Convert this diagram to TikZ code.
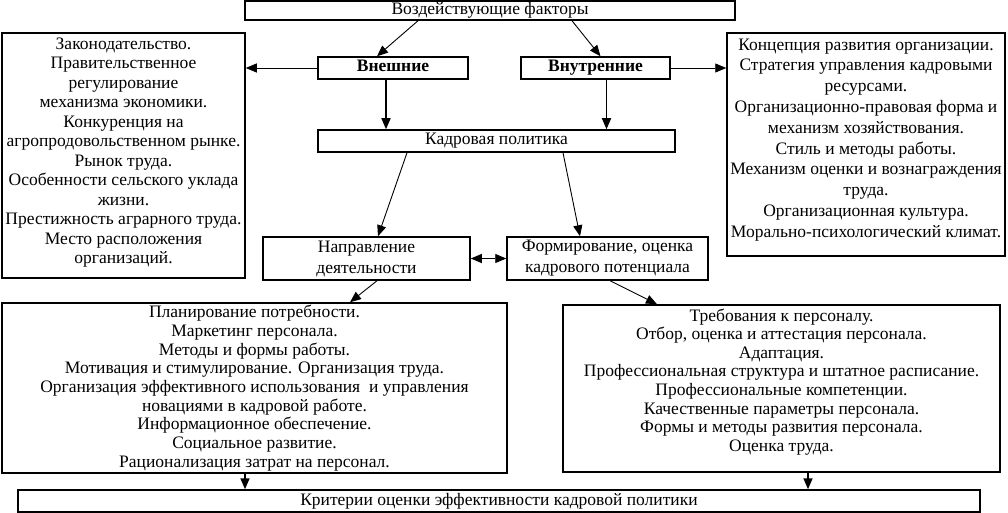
\documentclass[tikz,border=0pt]{standalone}
\usepackage{fontspec}
\setmainfont{Liberation Serif}
\usetikzlibrary{arrows.meta}

\newcommand{\boxfont}[1]{\fontsize{17.5}{#1}\selectfont}

\tikzset{
  frame/.style={draw, line width=1.5pt, inner sep=0pt, font=\boxfont{19.5}},
  box/.style={frame, align=center},
  linebox/.style={frame, text height=12, text depth=4},
  arr/.style={-{Triangle[length=11pt,width=9pt]}, line width=0.9pt},
  thickarr/.style={arr, line width=1.6pt},
  dblarr/.style={{Triangle[length=11pt,width=9pt]}-{Triangle[length=11pt,width=9pt]}, line width=0.9pt}
}

\begin{document}
\begin{tikzpicture}[x = 1pt, y = -1pt]
	\useasboundingbox (0, 0) rectangle (1008, 513);
	% top level
	\node[linebox, minimum width = 490, minimum height = 19] (factors) at (490, 10.5) {Воздействующие факторы};
	\node[linebox, minimum width = 150, minimum height = 22, font=\boxfont{19.5}\bfseries] (external) at (393, 68) {Внешние};
	\node[linebox, minimum width = 149, minimum height = 22, font=\boxfont{19.5}\bfseries] (internal) at (595.5, 68) {Внутренние};
	\node[box, minimum width = 243, minimum height = 245, text depth = 10] (extlist) at (123.5, 155.5) {Законодательство.\\
		Правительственное\\
		регулирование\\
		механизма экономики.\\
		Конкуренция на\\
		агропродовольственном рынке.\\
		Рынок труда.\\
		Особенности сельского уклада\\
		жизни.\\
		Престижность аграрного труда.\\
		Место расположения\\
		организаций.};
	\node[box, minimum width = 278, minimum height = 223, text depth = 13, font=\boxfont{20.8}] (intlist) at (866, 144.5) {Концепция развития организации.\\
		Стратегия управления кадровыми\\
		ресурсами.\\
		Организационно-правовая форма и\\
		механизм хозяйствования.\\
		Стиль и методы работы.\\
		Механизм оценки и вознаграждения\\
		труда.\\
		Организационная культура.\\
		Морально-психологический климат.};
	% policy
	\node[linebox, minimum width = 357, minimum height = 22] (policy) at (496.5, 141) {Кадровая политика};
	\node[box, minimum width = 207, minimum height = 43, font=\boxfont{21}] (direction) at (366.5, 258.5) {Направление\\ деятельности};
	\node[box, minimum width = 201, minimum height = 43, font=\boxfont{21}] (potential) at (607.5, 258.5) {Формирование, оценка\\ кадрового потенциала};
	\node[box, minimum width = 505, minimum height = 170, font=\boxfont{18.7}] (dirlist) at (254.5, 388) {Планирование потребности.\\
		Маркетинг персонала.\\
		Методы и формы работы.\\
		Мотивация и стимулирование. Организация труда.\\
		Организация эффективного использования \ и управления\\
		новациями в кадровой работе.\\
		Информационное обеспечение.\\
		Социальное развитие.\\
		Рационализация затрат на персонал.};
	\node[box, minimum width = 437, minimum height = 167, text depth = 17, font=\boxfont{18.6}] (potlist) at (781.5, 388.5) {Требования к персоналу.\\
		Отбор, оценка и аттестация персонала.\\
		Адаптация.\\
		Профессиональная структура и штатное расписание.\\
		Профессиональные компетенции.\\
		Качественные параметры персонала.\\
		Формы и методы развития персонала.\\
		Оценка труда.};
	\node[linebox, minimum width = 962, minimum height = 22] (criteria) at (499, 501) {Критерии оценки эффективности кадровой политики};
	% connectors
	\draw[arr] ([xshift = -72]factors.south) -- ([xshift = -16]external.north);
	\draw[arr] ([xshift = 82]factors.south) -- ([xshift = 5]internal.north);
	\draw[arr] (external.west) -- (external.west -| extlist.east);
	\draw[arr] (internal.east) -- (internal.east -| intlist.west);
	\draw[thickarr] ([xshift = -7]external.south) -- ([xshift = -7]external.south |- policy.north);
	\draw[thickarr] ([xshift = 11]internal.south) -- ([xshift = 11]internal.south |- policy.north);
	\draw[arr] ([xshift = -89.5]policy.south) -- ([xshift = 11.5]direction.north);
	\draw[arr] ([xshift = 66.5]policy.south) -- ([xshift = -27.5]potential.north);
	\draw[dblarr] (direction.east) -- (potential.west);
	\draw[arr] ([xshift = 10.5]direction.south) -- ([xshift = 95.5]dirlist.north);
	\draw[arr] ([xshift = 2.5]potential.south) -- ([xshift = -124.5]potlist.north);
	\draw[thickarr] ([xshift = -9.5]dirlist.south) -- ([xshift = -9.5]dirlist.south |- criteria.north);
	\draw[thickarr] ([xshift = 26.5]potlist.south) -- ([xshift = 26.5]potlist.south |- criteria.north);
\end{tikzpicture}
\end{document}
